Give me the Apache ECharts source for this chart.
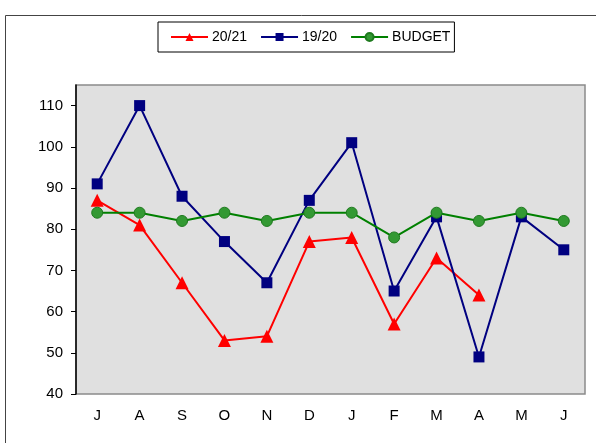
<!DOCTYPE html>
<html>
<head>
<meta charset="utf-8">
<script src="https://cdn.jsdelivr.net/npm/echarts@6/dist/echarts.min.js"></script>
<style>
  html, body { margin: 0; padding: 0; background: #fff; }
  #chart { width: 596px; height: 443px; }
</style>
</head>
<body>
<div id="chart"></div>
<script>
  // months, July to June
  var months = ['J', 'A', 'S', 'O', 'N', 'D', 'J', 'F', 'M', 'A', 'M', 'J'];
  var season2021 = [87, 81, 67, 53, 54, 77, 78, 57, 73, 64, null, null];
  var season1920 = [91, 110, 88, 77, 67, 87, 101, 65, 83, 49, 83, 75];
  var budget = [84, 84, 82, 84, 82, 84, 84, 78, 84, 82, 84, 82];
  var yTicks = [40, 50, 60, 70, 80, 90, 100, 110];

  var chart = echarts.init(document.getElementById('chart'));
  var font = 'Liberation Sans, Arial, sans-serif';

  var option = {
    animation: false,
    backgroundColor: '#fff',
    textStyle: { fontFamily: font },
    graphic: [{
      type: 'rect',
      shape: { x: 5.5, y: 15.5, width: 700, height: 600 },
      style: { fill: 'none', stroke: '#444', lineWidth: 1 },
      silent: true, z: -1
    }],
    legend: {
      top: 22,
      left: 158,
      itemWidth: 37,
      itemHeight: 10,
      itemGap: 13,
      padding: [8, 4, 8, 12],
      borderColor: '#000',
      borderWidth: 1,
      textStyle: { fontFamily: font, fontSize: 14, color: '#000', padding: [0, 0, 0, -1] },
      data: ['20/21', '19/20', 'BUDGET']
    },
    grid: {
      left: 76, top: 85, width: 509, height: 309,
      show: true,
      backgroundColor: '#e0e0e0',
      borderColor: '#8a8a8a',
      borderWidth: 1.5
    },
    xAxis: {
      type: 'category',
      data: months,
      boundaryGap: true,
      axisLine: { show: false },
      axisTick: { show: false },
      axisLabel: { fontFamily: font, fontSize: 15, color: '#000', margin: 14 }
    },
    yAxis: {
      type: 'value',
      min: 40,
      max: 115,
      interval: 10,
      splitLine: { show: false },
      axisLine: { show: true, lineStyle: { color: '#000', width: 1.5 } },
      axisTick: { show: true, length: 5, customValues: yTicks, lineStyle: { color: '#000' } },
      axisLabel: { fontFamily: font, fontSize: 15, color: '#000', margin: 13, customValues: yTicks }
    },
    series: [
      {
        name: '20/21',
        type: 'line',
        data: season2021,
        symbol: 'triangle',
        symbolSize: 13,
        lineStyle: { color: '#ff0000', width: 2 },
        itemStyle: { color: '#ff0000' },
        z: 2
      },
      {
        name: '19/20',
        type: 'line',
        data: season1920,
        symbol: 'rect',
        symbolSize: 11,
        lineStyle: { color: '#000080', width: 2 },
        itemStyle: { color: '#000080' },
        z: 3
      },
      {
        name: 'BUDGET',
        type: 'line',
        data: budget,
        symbol: 'circle',
        symbolSize: 11,
        lineStyle: { color: '#008000', width: 2 },
        itemStyle: { color: '#339933', borderColor: '#1e7a1e', borderWidth: 1 },
        z: 4
      }
    ]
  };

  chart.setOption(option);
</script>
</body>
</html>
